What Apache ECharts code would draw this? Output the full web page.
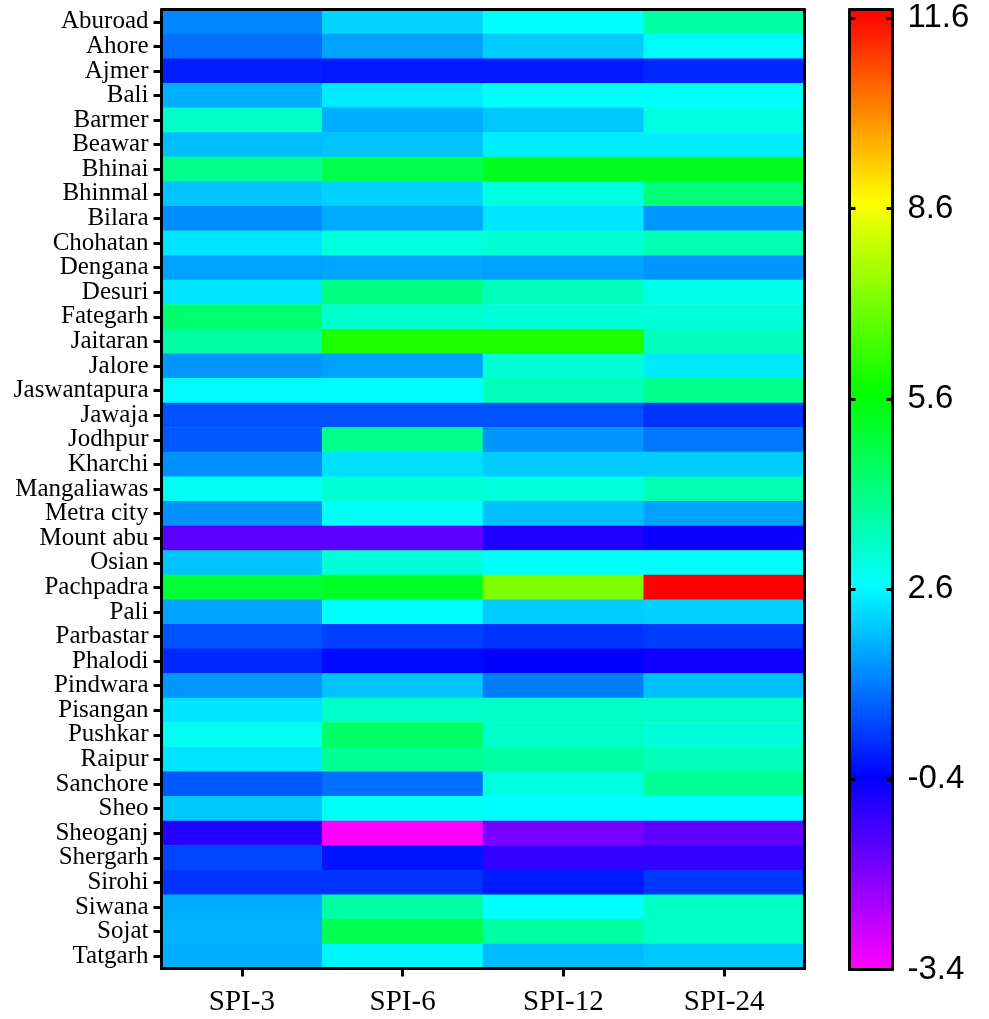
<!DOCTYPE html>
<html>
<head>
<meta charset="utf-8">
<script src="https://cdn.jsdelivr.net/npm/echarts@6/dist/echarts.min.js"></script>
<style>
  body { margin: 0; background: #fff; }
  #chart { width: 989px; height: 1019px; }
</style>
</head>
<body>
<div id="chart"></div>
<script>
// station names, top to bottom
const stations = ['Aburoad', 'Ahore', 'Ajmer', 'Bali', 'Barmer', 'Beawar', 'Bhinai', 'Bhinmal', 'Bilara',
  'Chohatan', 'Dengana', 'Desuri', 'Fategarh', 'Jaitaran', 'Jalore', 'Jaswantapura', 'Jawaja', 'Jodhpur',
  'Kharchi', 'Mangaliawas', 'Metra city', 'Mount abu', 'Osian', 'Pachpadra', 'Pali', 'Parbastar', 'Phalodi',
  'Pindwara', 'Pisangan', 'Pushkar', 'Raipur', 'Sanchore', 'Sheo', 'Sheoganj', 'Shergarh', 'Sirohi',
  'Siwana', 'Sojat', 'Tatgarh']
const scales = ['SPI-3', 'SPI-6', 'SPI-12', 'SPI-24']

// values per scale, same order as stations
const spi3 = [1.2, 0.9, -0.05, 1.66, 3.25, 1.85, 3.95, 1.9, 1.25, 2.3, 1.5, 2.3, 4.3, 3.7, 1.35, 2.55, 0.55, 0.65,
  1.3, 2.75, 1.3, -1.46, 1.9, 5.0, 1.5, 0.55, 0.07, 1.35, 2.3, 2.75, 2.3, 0.65, 1.95, -0.81, 0.42, 0.2,
  1.66, 1.72, 1.66]
const spi6 = [2.1, 1.5, -0.1, 2.36, 1.66, 1.9, 4.65, 2.07, 1.6, 3.0, 1.55, 4.1, 3.2, 5.95, 1.5, 2.6, 0.55, 3.95,
  2.25, 3.1, 2.65, -1.5, 3.05, 5.15, 2.6, 0.37, -0.28, 1.9, 3.25, 4.4, 3.85, 0.9, 2.7, -3.4, -0.16, 0.2,
  3.7, 4.65, 2.5]
const spi12 = [2.62, 2.0, -0.1, 2.6, 1.95, 2.4, 5.25, 2.95, 2.3, 3.1, 1.5, 3.4, 3.05, 5.95, 3.1, 3.4, 0.55, 1.35,
  2.0, 3.0, 1.85, -0.75, 2.6, 7.07, 2.0, 0.2, -0.4, 1.07, 3.25, 3.25, 3.7, 2.95, 2.6, -1.8, -0.99, -0.1,
  2.6, 3.7, 1.8]
const spi24 = [3.7, 2.55, 0.05, 2.65, 2.95, 2.4, 5.25, 4.2, 1.36, 3.5, 1.35, 2.85, 3.05, 3.4, 2.36, 3.95, 0.2, 1.0,
  2.0, 3.5, 1.5, -0.52, 2.6, 11.6, 2.07, 0.3, -0.58, 1.85, 3.25, 3.05, 3.4, 3.85, 2.6, -1.52, -0.99, 0.25,
  3.3, 3.25, 1.95]

// colour bar ticks
const barMin = -3.4
const barMax = 11.6
const barStep = 3

const columns = [spi3, spi6, spi12, spi24]
const cells = []
columns.forEach((col, x) => {
  col.forEach((v, y) => cells.push([x, y, v]))
})

const black = '#000'
const borderLine = { show: true, onZero: false, lineStyle: { color: black, width: 3 } }

const chart = echarts.init(document.getElementById('chart'))
chart.setOption({
  animation: false,
  backgroundColor: '#fff',
  grid: [
    { left: 161.5, right: 184.5, top: 9.5, bottom: 50.5 },
    { left: 849.5, width: 43, top: 9.5, bottom: 49.5 }
  ],
  xAxis: [
    {
      type: 'category', data: scales, gridIndex: 0, position: 'bottom', z: 10,
      axisLine: borderLine,
      axisTick: { show: true, alignWithLabel: true, length: 8, lineStyle: { color: black, width: 3 } },
      axisLabel: { color: black, fontFamily: 'Liberation Serif', fontSize: 29, margin: 19 },
      splitLine: { show: false }
    },
    {
      type: 'category', data: scales, gridIndex: 0, position: 'top', z: 10,
      axisLine: borderLine, axisTick: { show: false }, axisLabel: { show: false }
    },
    {
      type: 'category', data: [''], gridIndex: 1, position: 'bottom', z: 10,
      axisLine: borderLine, axisTick: { show: false }, axisLabel: { show: false }
    },
    {
      type: 'category', data: [''], gridIndex: 1, position: 'top', z: 10,
      axisLine: borderLine, axisTick: { show: false }, axisLabel: { show: false }
    }
  ],
  yAxis: [
    {
      type: 'category', data: stations, gridIndex: 0, inverse: true, position: 'left', z: 10,
      axisLine: borderLine,
      axisTick: { show: true, alignWithLabel: true, length: 8, lineStyle: { color: black, width: 3 } },
      axisLabel: { interval: 0, color: black, fontFamily: 'Liberation Serif', fontSize: 25, margin: 13 },
      splitLine: { show: false }
    },
    {
      type: 'category', data: stations, gridIndex: 0, inverse: true, position: 'right', z: 10,
      axisLine: borderLine, axisTick: { show: false }, axisLabel: { show: false }
    },
    {
      type: 'value', gridIndex: 1, position: 'right', z: 10,
      min: barMin, max: barMax + 0.14, interval: barStep,
      axisLine: borderLine,
      axisTick: { show: true, inside: true, length: 6, lineStyle: { color: black, width: 3 } },
      axisLabel: {
        color: black, fontFamily: 'Liberation Sans', fontSize: 33, margin: 15,
        showMaxLabel: false,
        formatter: v => Number(v).toFixed(1)
      },
      splitLine: { show: false }
    },
    {
      type: 'value', gridIndex: 1, position: 'left', z: 10,
      min: barMin, max: barMax + 0.14, interval: barStep,
      axisLine: borderLine,
      axisTick: { show: true, inside: true, length: 6, lineStyle: { color: black, width: 3 } },
      axisLabel: { show: false },
      splitLine: { show: false }
    }
  ],
  visualMap: {
    type: 'continuous',
    z: 1,
    min: barMin,
    max: barMax,
    seriesIndex: 0,
    orient: 'vertical',
    left: 850,
    top: 10,
    padding: 0,
    itemWidth: 42,
    itemHeight: 959,
    calculable: false,
    text: null,
    showLabel: false,
    inRange: { color: ['#ff00ff', '#0000ff', '#00ffff', '#00ff00', '#ffff00', '#ff0000'] }
  },
  series: [{
    type: 'heatmap',
    xAxisIndex: 0,
    yAxisIndex: 0,
    data: cells,
    itemStyle: { borderWidth: 0 },
    emphasis: { disabled: true }
  }]
})
</script>
</body>
</html>
